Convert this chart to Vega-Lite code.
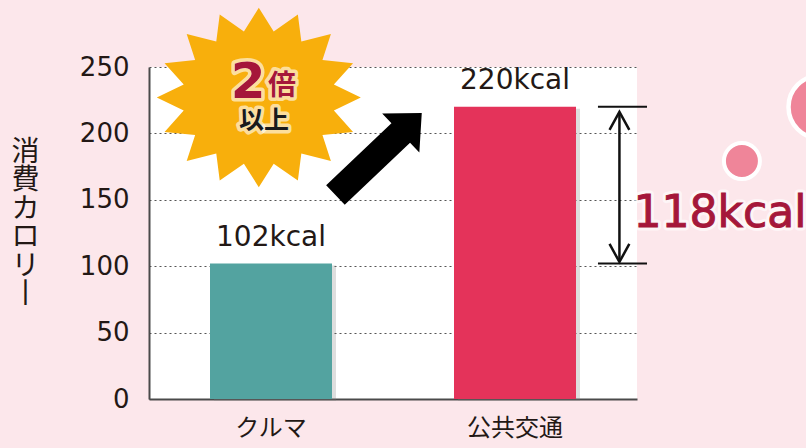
{
  "$schema": "https://vega.github.io/schema/vega-lite/v6.json",
  "width": 488,
  "height": 332,
  "autosize": {"type": "none"},
  "padding": {"left": 149, "top": 67, "right": 169, "bottom": 49},
  "background": "#fce7eb",
  "config": {"view": {"stroke": null, "fill": "white"}},
  "resolve": {"scale": {"x": "independent", "color": "independent"}, "axis": {"x": "independent", "y": "independent"}},
  "layer": [
    {
      "data": {"values": [
        {"mode": "クルマ", "kcal": 102, "label": "102kcal"},
        {"mode": "公共交通", "kcal": 220, "label": "220kcal"}
      ]},
      "encoding": {
        "x": {"field": "mode", "type": "nominal", "sort": null, "scale": {"paddingInner": 0.5, "paddingOuter": 0.25},
          "axis": {"title": null, "labelAngle": 0, "ticks": false, "labelFont": "Noto Sans CJK JP", "labelFontSize": 24, "labelColor": "#231815", "labelPadding": 17, "domainColor": "#4a4a4a", "domainWidth": 2}},
        "y": {"field": "kcal", "type": "quantitative", "scale": {"domain": [0, 250], "nice": false},
          "axis": {"title": ["消", "費", "カ", "ロ", "リ", "丨"], "titleAngle": 0, "titleFont": "Noto Sans CJK JP", "titleFontSize": 28, "titleFontWeight": "normal", "titleLineHeight": 28.5, "titleColor": "#231815", "titleAlign": "center", "titleBaseline": "top", "titleX": -124, "titleY": 71,
            "values": [0, 50, 100, 150, 200, 250], "ticks": false, "labelFont": "DejaVu Sans", "labelFontSize": 26, "labelColor": "#231815", "labelPadding": 20,
            "domainColor": "#4a4a4a", "domainWidth": 2, "grid": true, "gridColor": "#555555", "gridDash": [2, 3], "gridWidth": 1}}
      },
      "layer": [
        {"mark": {"type": "bar", "color": "#7a7a7a", "opacity": 0.25, "xOffset": 4, "yOffset": 2}},
        {
          "mark": {"type": "bar"},
          "encoding": {
            "color": {"field": "mode", "type": "nominal", "sort": null, "scale": {"domain": ["クルマ", "公共交通"], "range": ["#53a3a0", "#e4335a"]}, "legend": null}
          }
        },
        {
          "mark": {"type": "text", "font": "DejaVu Sans", "fontSize": 28, "color": "#231815", "baseline": "alphabetic", "dy": -18},
          "encoding": {"text": {"field": "label"}}
        }
      ]
    },
    {
      "layer": [
        {
          "data": {"values": [{"x": 0.45, "y": 227}]},
          "mark": {"type": "point", "filled": true, "opacity": 1, "color": "#f8af0c", "size": 41616,
            "shape": "M0,-0.88 L0.146,-0.648 L0.383,-0.813 L0.417,-0.549 L0.707,-0.622 L0.624,-0.367 L0.924,-0.337 L0.736,-0.128 L1,0 L0.736,0.128 L0.924,0.337 L0.624,0.367 L0.707,0.622 L0.417,0.549 L0.383,0.813 L0.146,0.648 L0,0.88 L-0.146,0.648 L-0.383,0.813 L-0.417,0.549 L-0.707,0.622 L-0.624,0.367 L-0.924,0.337 L-0.736,0.128 L-1,0 L-0.736,-0.128 L-0.924,-0.337 L-0.624,-0.367 L-0.707,-0.622 L-0.417,-0.549 L-0.383,-0.813 L-0.146,-0.648 Z"},
          "encoding": {
            "x": {"field": "x", "type": "quantitative", "scale": {"domain": [0, 2], "nice": false, "zero": false}, "axis": null},
            "y": {"field": "y", "type": "quantitative", "scale": {"domain": [0, 250], "nice": false}, "axis": null}
          }
        },
        {
          "data": {"values": [{"x": 0.406, "y": 226.5, "t": "2"}]},
          "layer": [
            {"mark": {"type": "text", "font": "DejaVu Sans", "fontSize": 50, "fontWeight": "bold", "baseline": "alphabetic", "align": "center", "color": "white", "stroke": "white", "strokeWidth": 7, "strokeOpacity": 0.6, "strokeJoin": "round"}},
            {"mark": {"type": "text", "font": "DejaVu Sans", "fontSize": 50, "fontWeight": "bold", "baseline": "alphabetic", "align": "center", "color": "#a5173a"}}
          ],
          "encoding": {
            "x": {"field": "x", "type": "quantitative", "scale": {"domain": [0, 2], "nice": false, "zero": false}, "axis": null},
            "y": {"field": "y", "type": "quantitative", "scale": {"domain": [0, 250], "nice": false}, "axis": null},
            "text": {"field": "t"}
          }
        },
        {
          "data": {"values": [{"x": 0.545, "y": 229, "t": "倍"}]},
          "layer": [
            {"mark": {"type": "text", "font": "Noto Sans CJK JP", "fontSize": 28, "fontWeight": "bold", "baseline": "alphabetic", "align": "center", "color": "white", "stroke": "white", "strokeWidth": 7, "strokeOpacity": 0.6, "strokeJoin": "round"}},
            {"mark": {"type": "text", "font": "Noto Sans CJK JP", "fontSize": 28, "fontWeight": "bold", "baseline": "alphabetic", "align": "center", "color": "#a5173a"}}
          ],
          "encoding": {
            "x": {"field": "x", "type": "quantitative", "scale": {"domain": [0, 2], "nice": false, "zero": false}, "axis": null},
            "y": {"field": "y", "type": "quantitative", "scale": {"domain": [0, 250], "nice": false}, "axis": null},
            "text": {"field": "t"}
          }
        },
        {
          "data": {"values": [{"x": 0.471, "y": 203, "t": "以上"}]},
          "layer": [
            {"mark": {"type": "text", "font": "Noto Sans CJK JP", "fontSize": 25, "fontWeight": "bold", "baseline": "alphabetic", "align": "center", "color": "white", "stroke": "white", "strokeWidth": 7, "strokeOpacity": 0.6, "strokeJoin": "round"}},
            {"mark": {"type": "text", "font": "Noto Sans CJK JP", "fontSize": 25, "fontWeight": "bold", "baseline": "alphabetic", "align": "center", "color": "#1a1a1a"}}
          ],
          "encoding": {
            "x": {"field": "x", "type": "quantitative", "scale": {"domain": [0, 2], "nice": false, "zero": false}, "axis": null},
            "y": {"field": "y", "type": "quantitative", "scale": {"domain": [0, 250], "nice": false}, "axis": null},
            "text": {"field": "t"}
          }
        },
        {
          "data": {"values": [{"x": 0.941, "y": 184.5}]},
          "mark": {"type": "point", "filled": true, "opacity": 1, "color": "black", "size": 14161, "angle": 316.5,
            "shape": "M-1,-0.227 L0.513,-0.227 L0.513,-0.454 L1,0 L0.513,0.454 L0.513,0.227 L-1,0.227 Z"},
          "encoding": {
            "x": {"field": "x", "type": "quantitative", "scale": {"domain": [0, 2], "nice": false, "zero": false}, "axis": null},
            "y": {"field": "y", "type": "quantitative", "scale": {"domain": [0, 250], "nice": false}, "axis": null}
          }
        },
        {
          "data": {"values": [{"x1": 1.84, "x2": 2.041, "y": 220}, {"x1": 1.84, "x2": 2.041, "y": 102}]},
          "mark": {"type": "rule", "color": "#111111", "strokeWidth": 2},
          "encoding": {
            "x": {"field": "x1", "type": "quantitative", "scale": {"domain": [0, 2], "nice": false, "zero": false}, "axis": null},
            "x2": {"field": "x2"},
            "y": {"field": "y", "type": "quantitative", "scale": {"domain": [0, 250], "nice": false}, "axis": null}
          }
        },
        {
          "data": {"values": [{"x": 1.928, "y1": 104, "y2": 215}]},
          "mark": {"type": "rule", "color": "#111111", "strokeWidth": 2.5},
          "encoding": {
            "x": {"field": "x", "type": "quantitative", "scale": {"domain": [0, 2], "nice": false, "zero": false}, "axis": null},
            "y": {"field": "y1", "type": "quantitative", "scale": {"domain": [0, 250], "nice": false}, "axis": null},
            "y2": {"field": "y2"}
          }
        },
        {
          "data": {"values": [{"x": 1.928, "y": 216.2}]},
          "mark": {"type": "point", "filled": false, "opacity": 1, "color": "#111111", "strokeWidth": 2.5, "size": 1296, "shape": "M-0.55,1 L0,0 L0.55,1"},
          "encoding": {
            "x": {"field": "x", "type": "quantitative", "scale": {"domain": [0, 2], "nice": false, "zero": false}, "axis": null},
            "y": {"field": "y", "type": "quantitative", "scale": {"domain": [0, 250], "nice": false}, "axis": null}
          }
        },
        {
          "data": {"values": [{"x": 1.928, "y": 103.2}]},
          "mark": {"type": "point", "filled": false, "opacity": 1, "color": "#111111", "strokeWidth": 2.5, "size": 1296, "shape": "M-0.55,-1 L0,0 L0.55,-1"},
          "encoding": {
            "x": {"field": "x", "type": "quantitative", "scale": {"domain": [0, 2], "nice": false, "zero": false}, "axis": null},
            "y": {"field": "y", "type": "quantitative", "scale": {"domain": [0, 250], "nice": false}, "axis": null}
          }
        },
        {
          "data": {"values": [{"x": 2.43, "y": 179.2}]},
          "mark": {"type": "point", "shape": "circle", "filled": true, "opacity": 1, "color": "#ef8599", "stroke": "white", "strokeWidth": 4, "size": 1296},
          "encoding": {
            "x": {"field": "x", "type": "quantitative", "scale": {"domain": [0, 2], "nice": false, "zero": false}, "axis": null},
            "y": {"field": "y", "type": "quantitative", "scale": {"domain": [0, 250], "nice": false}, "axis": null}
          }
        },
        {
          "data": {"values": [{"x": 2.75, "y": 219.9}]},
          "mark": {"type": "point", "shape": "circle", "filled": true, "opacity": 1, "color": "#ef8599", "stroke": "white", "strokeWidth": 4.5, "size": 3969},
          "encoding": {
            "x": {"field": "x", "type": "quantitative", "scale": {"domain": [0, 2], "nice": false, "zero": false}, "axis": null},
            "y": {"field": "y", "type": "quantitative", "scale": {"domain": [0, 250], "nice": false}, "axis": null}
          }
        },
        {
          "data": {"values": [{"x": 2.34, "y": 129.5, "t": "118kcal"}]},
          "layer": [
            {"mark": {"type": "text", "font": "DejaVu Sans", "fontSize": 44, "align": "center", "baseline": "alphabetic", "color": "white", "stroke": "white", "strokeWidth": 7, "strokeOpacity": 0.6, "strokeJoin": "round"}},
            {"mark": {"type": "text", "font": "DejaVu Sans", "fontSize": 44, "align": "center", "baseline": "alphabetic", "color": "#a5173a", "stroke": "#a5173a", "strokeWidth": 1}}
          ],
          "encoding": {
            "x": {"field": "x", "type": "quantitative", "scale": {"domain": [0, 2], "nice": false, "zero": false}, "axis": null},
            "y": {"field": "y", "type": "quantitative", "scale": {"domain": [0, 250], "nice": false}, "axis": null},
            "text": {"field": "t"}
          }
        }
      ]
    }
  ]
}
